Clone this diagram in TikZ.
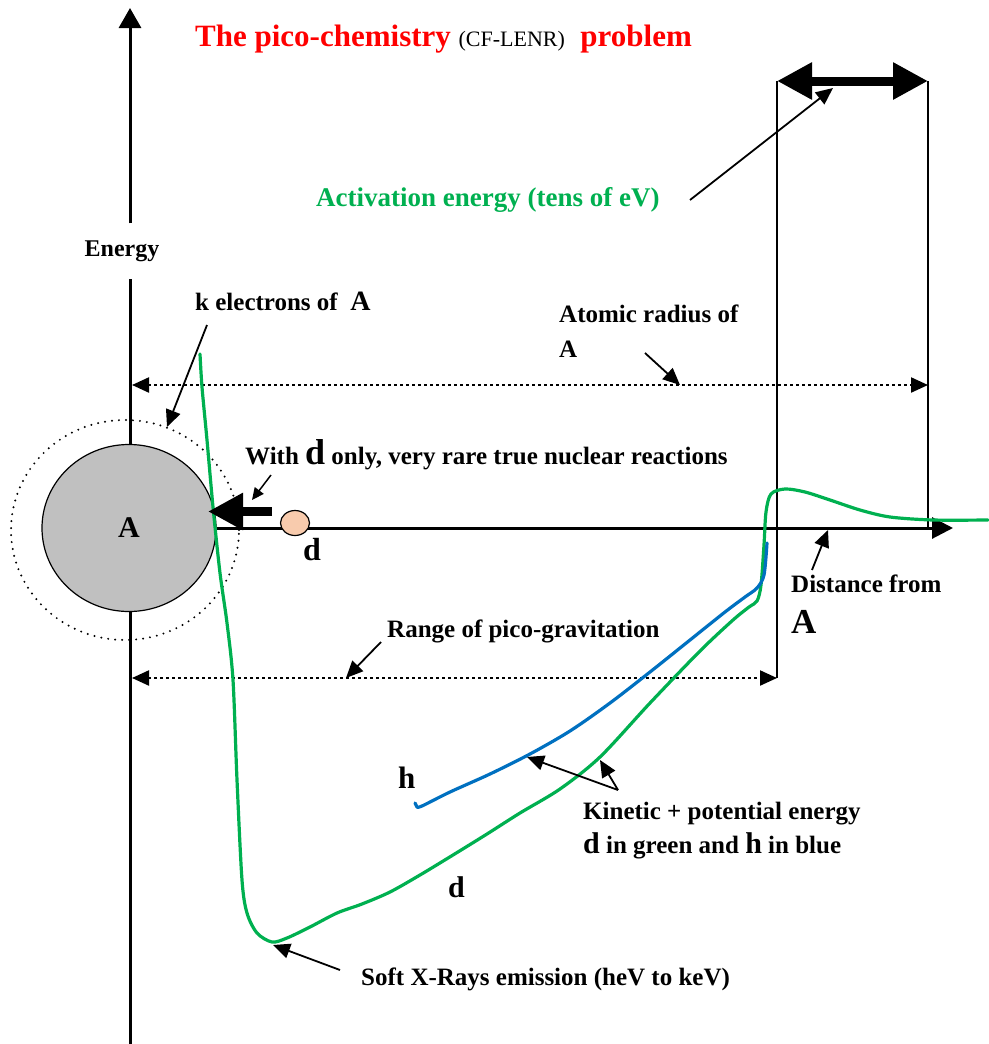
\documentclass[tikz,border=0pt]{standalone}
\usepackage{fontspec}
\setmainfont{Liberation Serif}
\usetikzlibrary{arrows.meta,shapes.geometric}
\definecolor{cgreen}{HTML}{00B050}
\definecolor{cblue}{HTML}{0070C0}
\definecolor{cgray}{HTML}{C0C0C0}
\definecolor{cpeach}{HTML}{F8CBAD}
\newcommand\fsz[1]{\fontsize{#1}{#1}\selectfont}
\begin{document}
\begin{tikzpicture}[x=1pt,y=-1pt,
 lab/.style={font=\fsz{25}\bfseries, inner sep=0pt},
 axisline/.style={line width=3pt},
 guide/.style={line width=2pt},
 ptr/.style={line width=1.8pt, -{Triangle[length=17pt,width=15pt]}},
 dotarrow/.style={line width=2.2pt, dash pattern=on 2.5pt off 3.5pt,
   {Triangle[length=17pt,width=15pt]}-{Triangle[length=17pt,width=15pt]}},
 curve/.style={line width=3.2pt, line cap=round, line join=round},
]
\useasboundingbox (0,0) rectangle (988,1044);

% vertical axis with Energy label
\node[font=\fsz{24}\bfseries, inner sep=0pt, minimum height=55pt] (energy) at (122,251) {Energy};
\coordinate (vbot) at (130,1044);
\coordinate (vtop) at (130,8);
\draw[axisline] (vbot) -- (vbot |- energy.south);
\draw[axisline, -{Triangle[length=20pt,width=22pt]}] (vbot |- energy.north) -- (vtop);

% atom
\node[ellipse, draw, line width=2.2pt, line cap=round, dash pattern=on 0pt off 7pt,
      minimum width=228pt, minimum height=220pt] (kshell) at (125,530) {};
\node[ellipse, draw, line width=1.2pt, fill=cgray, minimum width=174pt, minimum height=167pt,
      font=\fsz{30}\bfseries] (A) at (129,528) {A};

% horizontal axis
\coordinate (htip) at (953,528);
\draw[axisline, -{Triangle[length=21pt,width=21pt]}] (A.east) -- (htip);

% deuteron
\node[ellipse, draw, line width=1.2pt, fill=cpeach, minimum width=29pt, minimum height=25pt, inner sep=0pt] (dball) at (295,523) {};
\node[font=\fsz{32}\bfseries, inner sep=0pt] (dlab) at (312,550) {d};

% vertical guides and activation double arrow
\coordinate (g1t) at (777,81);
\coordinate (g1b) at (777,678);
\coordinate (g2t) at (928,81);
\coordinate (g2b) at (928,528);
\draw[guide] (g1t) -- (g1b);
\draw[guide] (g2t) -- (g2b);
\draw[line width=9pt, {Triangle[length=35pt,width=35pt]}-{Triangle[length=35pt,width=35pt]}] (g1t) -- (g2t);

% dotted range arrows
\coordinate (ar1) at (132,385);
\coordinate (ar2) at (928,385);
\draw[dotarrow] (ar1) -- (ar2);
\coordinate (pg1) at (132,678);
\draw[dotarrow] (pg1) -- (g1b);

% curves
\draw[curve, cgreen] plot[smooth, tension=0.5] coordinates {
 (200,354) (202,387) (207,440) (213,507) (220,573) (227,623) (233,680)
 (237,780) (242,880) (247,913) (257,933) (272,942) (287,938) (310,927)
 (337,913) (362,904) (390,892) (420,875) (453,855) (487,834) (520,813)
 (560,789) (600,757) (650,703) (700,651) (733,620) (749,607) (757,601)
 (761,585) (764,545) (766,512) (771,494) (785,489)
 (805,492) (830,500) (860,510) (890,517) (933,520) (988,520)};
\draw[curve, cblue] plot[smooth, tension=0.5] coordinates {
 (767,543) (764,575) (757,588) (745,597) (725,612) (690,640) (650,672)
 (610,703) (570,731) (530,754) (490,774) (450,792) (422,806)
 (417,807)} -- (415,803);

% thick arrow towards nucleus
\coordinate (tk1) at (272,511.5);
\coordinate (tk2) at (208,511.5);
\draw[line width=9pt, -{Triangle[length=35pt,width=35pt]}] (tk1) -- (tk2);

% texts
\node[anchor=base west, inner sep=0pt, font=\fsz{31}\bfseries, text=red] (title) at (195,46)
  {The pico-chemistry {\fsz{22}\mdseries\color{black}(CF-LENR)}\ \ problem};
\node[lab, text=cgreen, anchor=base west, font=\fsz{27}\bfseries] (act) at (316,206) {Activation energy (tens of eV)};
\node[lab, anchor=base west] (kel) at (195,310) {k electrons of \ {\fsz{28}A}};
\node[lab, anchor=base west] (atr) at (559,322) {Atomic radius of};
\node[lab, anchor=base west] (atrA) at (559,357) {A};
\node[lab, anchor=base west] (with) at (245,464) {With {\fsz{36}d} only, very rare true nuclear reactions};
\node[lab, anchor=base west] (dist) at (791,592) {Distance from};
\node[lab, anchor=base west] (distA) at (791,633) {\fsz{35}A};
\node[lab, anchor=base west] (range) at (387,637) {Range of pico-gravitation};
\node[font=\fsz{31}\bfseries, inner sep=0pt, anchor=base west] (hlab) at (398,788) {h};
\node[font=\fsz{30}\bfseries, inner sep=0pt, anchor=base west] (dlab2) at (448,897) {d};
\node[lab, anchor=base west] (kin) at (583,819) {Kinetic + potential energy};
\node[lab, anchor=base west] (kin2) at (583,853) {{\fsz{30}d} in green and {\fsz{30}h} in blue};
\node[lab, anchor=base west] (soft) at (361,985) {Soft X-Rays emission (heV to keV)};

% pointers
\coordinate (pa1) at (690,200); \coordinate (pa2) at (833,88);
\draw[ptr] (pa1) -- (pa2);
\coordinate (pk1) at (207,325); \coordinate (pk2) at (167,427);
\draw[ptr] (pk1) -- (pk2);
\coordinate (pt1) at (645,353); \coordinate (pt2) at (680,385);
\draw[ptr] (pt1) -- (pt2);
\coordinate (pw1) at (271,475); \coordinate (pw2) at (252,500);
\draw[line width=1.5pt, -{Triangle[length=12pt,width=11pt]}] (pw1) -- (pw2);
\coordinate (pd1) at (812,570); \coordinate (pd2) at (828,530);
\draw[ptr] (pd1) -- (pd2);
\coordinate (pr1) at (381,642); \coordinate (pr2) at (346,678);
\draw[ptr] (pr1) -- (pr2);
\coordinate (kp) at (618,790); \coordinate (kb) at (527,757); \coordinate (kg) at (600,760);
\draw[ptr] (kp) -- (kb);
\draw[ptr] (kp) -- (kg);
\coordinate (ps1) at (340,970); \coordinate (ps2) at (273,945);
\draw[ptr] (ps1) -- (ps2);
\end{tikzpicture}
\end{document}
